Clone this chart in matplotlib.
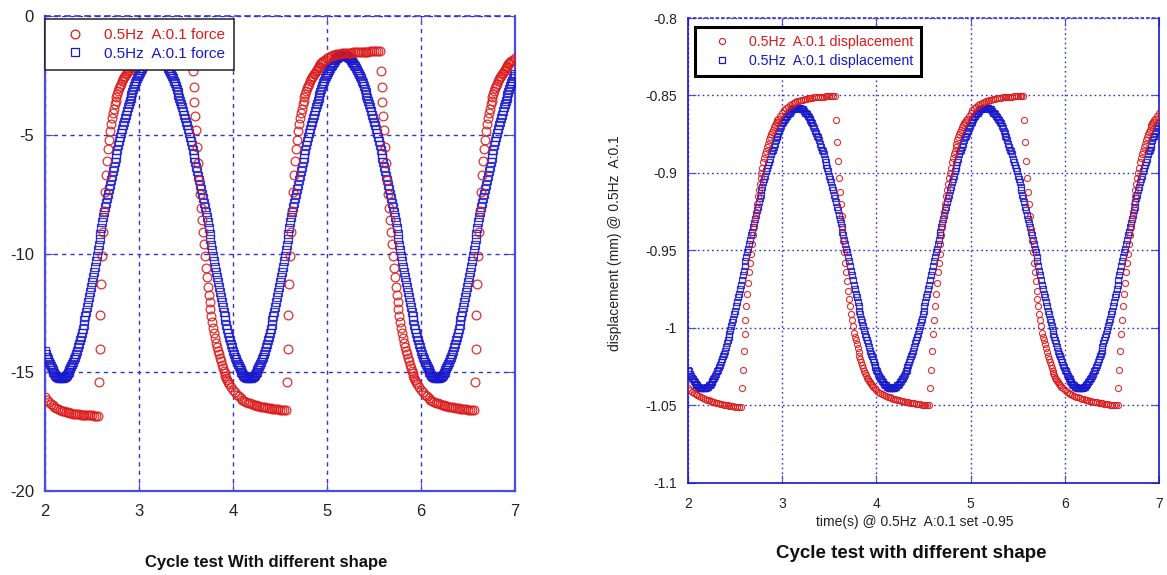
import numpy as np
import matplotlib
matplotlib.use("Agg")
import matplotlib.pyplot as plt
from matplotlib.lines import Line2D

plt.rcParams['font.family'] = ['Liberation Sans', 'DejaVu Sans']
plt.rcParams['axes.unicode_minus'] = False

############################################################################################################
# Data
############################################################################################################

# sampling clock: even samples 2.00, 2.02 ... 7.00 and odd samples 2.01, 2.03 ... 6.99
time_s = np.round(np.arange(2.0, 7.0001, 0.02), 2)
time_mid_s = np.round(np.arange(2.01, 6.9901, 0.02), 2)

# force, blue squares (even samples)
force_blue = [
    -14.09, -14.34, -14.56, -14.75, -14.92, -15.05, -15.15, -15.21, -15.25, -15.25, -15.21, -15.15, -15.05, -14.92,
    -14.75, -14.56, -14.34, -14.09, -13.81, -13.50, -13.17, -12.82, -12.45, -12.05, -11.64, -11.22, -10.78, -10.33,
    -9.86, -9.40, -8.93, -8.45,
    -8.06, -7.67, -7.29, -6.91, -6.53, -6.16, -5.80, -5.45, -5.11, -4.77, -4.45, -4.15, -3.85, -3.57, -3.31, -3.06,
    -2.84, -2.63, -2.44, -2.26, -2.11, -1.98, -1.87, -1.78, -1.72, -1.67, -1.65, -1.65, -1.67, -1.72, -1.78, -1.87,
    -1.98, -2.11, -2.26, -2.44, -2.63, -2.84, -3.06, -3.31, -3.57, -3.85, -4.15, -4.45, -4.77, -5.11, -5.45, -5.80,
    -6.16, -6.53, -6.91, -7.29, -7.67, -8.06, -8.45,
    -8.92, -9.40, -9.86, -10.33, -10.78, -11.22, -11.64, -12.05, -12.45, -12.82, -13.17, -13.50, -13.81, -14.09,
    -14.34, -14.56, -14.75, -14.92, -15.05, -15.15, -15.21, -15.25, -15.25, -15.21, -15.15, -15.05, -14.92, -14.75,
    -14.56, -14.34, -14.09, -13.81, -13.50, -13.17, -12.82, -12.45, -12.05, -11.64, -11.22, -10.78, -10.33, -9.86,
    -9.40, -8.93, -8.45,
    -8.06, -7.67, -7.29, -6.91, -6.53, -6.16, -5.80, -5.45, -5.11, -4.77, -4.45, -4.15, -3.85, -3.57, -3.31, -3.06,
    -2.84, -2.63, -2.44, -2.26, -2.11, -1.98, -1.87, -1.78, -1.72, -1.67, -1.64, -1.64, -1.67, -1.72, -1.78, -1.87,
    -1.98, -2.11, -2.26, -2.44, -2.63, -2.84, -3.06, -3.31, -3.57, -3.85, -4.15, -4.45, -4.77, -5.11, -5.45, -5.80,
    -6.16, -6.53, -6.91, -7.29, -7.67, -8.06, -8.45,
    -8.92, -9.40, -9.86, -10.33, -10.78, -11.22, -11.64, -12.05, -12.45, -12.82, -13.17, -13.50, -13.81, -14.09,
    -14.34, -14.56, -14.75, -14.92, -15.05, -15.15, -15.21, -15.24, -15.24, -15.21, -15.15, -15.05, -14.92, -14.75,
    -14.56, -14.34, -14.09, -13.81, -13.50, -13.17, -12.82, -12.45, -12.05, -11.64, -11.22, -10.78, -10.33, -9.86,
    -9.40, -8.93, -8.45,
    -8.06, -7.67, -7.29, -6.91, -6.53, -6.16, -5.80, -5.45, -5.11, -4.77, -4.45, -4.15, -3.85, -3.57, -3.31, -3.06,
    -2.84, -2.63, -2.44,
]

# force, blue squares (odd samples)
force_blue_mid = [
    -14.22, -14.45, -14.66, -14.84, -14.99, -15.10, -15.18, -15.23, -15.25, -15.23, -15.18, -15.10, -14.99, -14.84,
    -14.66, -14.45, -14.22, -13.95, -13.66, -13.34, -13.00, -12.64, -12.25, -11.85, -11.43, -11.00, -10.55, -10.10,
    -9.63, -9.16, -8.69,
    -8.26, -7.87, -7.48, -7.10, -6.72, -6.35, -5.98, -5.63, -5.28, -4.94, -4.61, -4.30, -4.00, -3.71, -3.44, -3.19,
    -2.95, -2.73, -2.53, -2.35, -2.19, -2.05, -1.93, -1.83, -1.75, -1.69, -1.66, -1.65, -1.66, -1.69, -1.75, -1.83,
    -1.93, -2.05, -2.19, -2.35, -2.53, -2.73, -2.95, -3.19, -3.44, -3.71, -4.00, -4.30, -4.61, -4.94, -5.28, -5.63,
    -5.98, -6.35, -6.72, -7.10, -7.48, -7.87, -8.26,
    -8.69, -9.16, -9.63, -10.10, -10.55, -11.00, -11.43, -11.85, -12.25, -12.64, -13.00, -13.34, -13.66, -13.95,
    -14.22, -14.45, -14.66, -14.84, -14.99, -15.10, -15.18, -15.23, -15.25, -15.23, -15.18, -15.10, -14.99, -14.84,
    -14.66, -14.45, -14.22, -13.95, -13.66, -13.34, -13.00, -12.64, -12.25, -11.85, -11.43, -11.00, -10.55, -10.10,
    -9.63, -9.16, -8.69,
    -8.26, -7.87, -7.48, -7.10, -6.72, -6.35, -5.98, -5.63, -5.28, -4.94, -4.61, -4.30, -4.00, -3.71, -3.44, -3.19,
    -2.95, -2.73, -2.53, -2.35, -2.19, -2.05, -1.93, -1.83, -1.75, -1.69, -1.66, -1.64, -1.66, -1.69, -1.75, -1.83,
    -1.93, -2.05, -2.19, -2.35, -2.53, -2.73, -2.95, -3.19, -3.44, -3.71, -4.00, -4.30, -4.61, -4.94, -5.28, -5.63,
    -5.98, -6.35, -6.72, -7.10, -7.48, -7.87, -8.26,
    -8.69, -9.16, -9.63, -10.10, -10.55, -11.00, -11.43, -11.85, -12.25, -12.64, -13.00, -13.34, -13.66, -13.95,
    -14.22, -14.45, -14.66, -14.84, -14.99, -15.10, -15.18, -15.23, -15.24, -15.23, -15.18, -15.10, -14.99, -14.84,
    -14.66, -14.45, -14.22, -13.95, -13.66, -13.34, -13.00, -12.64, -12.25, -11.85, -11.43, -11.00, -10.55, -10.10,
    -9.63, -9.16, -8.69,
    -8.26, -7.87, -7.48, -7.10, -6.72, -6.35, -5.98, -5.63, -5.28, -4.94, -4.61, -4.30, -4.00, -3.71, -3.44, -3.19,
    -2.95, -2.73, -2.53,
]

# force, red circles (even samples)
force_red = [
    -16.03, -16.15, -16.25, -16.33, -16.40, -16.46, -16.51, -16.55, -16.59, -16.62, -16.65, -16.67, -16.69, -16.71,
    -16.72, -16.74, -16.75, -16.76, -16.77, -16.78, -16.79, -16.80, -16.80, -16.81, -16.82, -16.82, -16.83, -16.83,
    -16.84,
    -14.0, -11.3, -9.1, -7.4, -6.1, -5.2, -4.55, -4.1, -3.72, -3.42, -3.16, -2.94, -2.75, -2.58, -2.44, -2.32, -2.20,
    -2.09, -1.99, -1.91, -1.84, -1.78, -1.73, -1.69, -1.66, -1.63, -1.61, -1.59, -1.58, -1.57, -1.56, -1.55, -1.55,
    -1.54, -1.54, -1.53, -1.53, -1.52, -1.52, -1.51, -1.51, -1.50, -1.50, -1.50, -1.49, -1.49, -1.49, -1.48, -1.48,
    -1.48,
    -3.0, -4.2, -5.5, -6.9, -8.1, -9.1, -10.1, -11.0, -11.75, -12.35, -12.9, -13.35, -13.75, -14.1, -14.4, -14.68,
    -14.93, -15.15, -15.33, -15.5, -15.63, -15.75, -15.85, -15.94, -16.02, -16.09, -16.15, -16.2, -16.24, -16.28,
    -16.31, -16.34, -16.37, -16.39, -16.41, -16.43, -16.45, -16.47, -16.48, -16.5, -16.51, -16.52, -16.53, -16.54,
    -16.55, -16.56, -16.57, -16.58, -16.59, -16.6,
    -14.0, -11.3, -9.1, -7.4, -6.1, -5.2, -4.55, -4.1, -3.72, -3.42, -3.16, -2.94, -2.75, -2.58, -2.44, -2.32, -2.20,
    -2.09, -1.99, -1.91, -1.84, -1.78, -1.73, -1.69, -1.66, -1.63, -1.61, -1.59, -1.58, -1.57, -1.56, -1.55, -1.55,
    -1.54, -1.54, -1.53, -1.53, -1.52, -1.52, -1.51, -1.51, -1.50, -1.50, -1.50, -1.49, -1.49, -1.49, -1.48, -1.48,
    -1.48,
    -3.0, -4.2, -5.5, -6.9, -8.1, -9.1, -10.1, -11.0, -11.75, -12.35, -12.9, -13.35, -13.75, -14.1, -14.4, -14.68,
    -14.93, -15.15, -15.33, -15.5, -15.63, -15.75, -15.85, -15.94, -16.02, -16.09, -16.15, -16.2, -16.24, -16.28,
    -16.31, -16.34, -16.37, -16.39, -16.41, -16.43, -16.45, -16.47, -16.48, -16.5, -16.51, -16.52, -16.53, -16.54,
    -16.55, -16.56, -16.57, -16.58, -16.59, -16.6,
    -14.0, -11.3, -9.1, -7.4, -6.1, -5.2, -4.55, -4.1, -3.72, -3.42, -3.16, -2.94, -2.75, -2.58, -2.44, -2.32, -2.20,
    -2.09, -1.99, -1.91, -1.84, -1.78,
]

# the red trace moves fast after each jump, so odd samples are kept there too
jump_time_s = [
    2.57, 2.59, 2.61, 2.63, 2.65, 2.67, 2.69, 2.71, 2.73, 2.75, 2.77, 2.79, 2.81, 2.83, 2.85, 2.87, 2.89, 2.91, 2.93, 2.95,
    3.57, 3.59, 3.61, 3.63, 3.65, 3.67, 3.69, 3.71, 3.73, 3.75, 3.77, 3.79, 3.81, 3.83, 3.85, 3.87, 3.89, 3.91, 3.93, 3.95,
    4.57, 4.59, 4.61, 4.63, 4.65, 4.67, 4.69, 4.71, 4.73, 4.75, 4.77, 4.79, 4.81, 4.83, 4.85, 4.87, 4.89, 4.91, 4.93, 4.95,
    5.57, 5.59, 5.61, 5.63, 5.65, 5.67, 5.69, 5.71, 5.73, 5.75, 5.77, 5.79, 5.81, 5.83, 5.85, 5.87, 5.89, 5.91, 5.93, 5.95,
    6.57, 6.59, 6.61, 6.63, 6.65, 6.67, 6.69, 6.71, 6.73, 6.75, 6.77, 6.79, 6.81, 6.83, 6.85, 6.87, 6.89, 6.91, 6.93, 6.95,
]
jump_force_red = [
    -15.4, -12.6, -10.1, -8.2, -6.7, -5.6, -4.85, -4.3, -3.9, -3.56,
    -3.29, -3.05, -2.85, -2.67, -2.51, -2.38, -2.26, -2.15, -2.04, -1.95,
    -2.3, -3.6, -4.8, -6.2, -7.5, -8.6, -9.6, -10.6, -11.4, -12.05,
    -12.63, -13.13, -13.55, -13.93, -14.25, -14.54, -14.81, -15.04, -15.24, -15.42,
    -15.4, -12.6, -10.1, -8.2, -6.7, -5.6, -4.85, -4.3, -3.9, -3.56,
    -3.29, -3.05, -2.85, -2.67, -2.51, -2.38, -2.26, -2.15, -2.04, -1.95,
    -2.3, -3.6, -4.8, -6.2, -7.5, -8.6, -9.6, -10.6, -11.4, -12.05,
    -12.63, -13.13, -13.55, -13.93, -14.25, -14.54, -14.81, -15.04, -15.24, -15.42,
    -15.4, -12.6, -10.1, -8.2, -6.7, -5.6, -4.85, -4.3, -3.9, -3.56,
    -3.29, -3.05, -2.85, -2.67, -2.51, -2.38, -2.26, -2.15, -2.04, -1.95,
]

# displacement (mm), blue squares (even samples)
disp_blue = [
    -1.027, -1.030, -1.032, -1.034, -1.036, -1.037, -1.038, -1.039, -1.039, -1.039, -1.038, -1.037, -1.036, -1.034,
    -1.032, -1.030, -1.027, -1.024, -1.020, -1.017, -1.012, -1.008, -1.004, -0.999, -0.994, -0.989, -0.983, -0.978,
    -0.972, -0.966, -0.960, -0.954, -0.949,
    -0.943, -0.938, -0.932, -0.927, -0.922, -0.916, -0.911, -0.906, -0.902, -0.897, -0.893, -0.888, -0.885, -0.881,
    -0.877, -0.874, -0.871, -0.868, -0.866, -0.864, -0.862, -0.861, -0.859, -0.859, -0.858, -0.858, -0.858, -0.859,
    -0.859, -0.861, -0.862, -0.864, -0.866, -0.868, -0.871, -0.874, -0.877, -0.881, -0.885, -0.888, -0.893, -0.897,
    -0.902, -0.906, -0.911, -0.916, -0.922, -0.927, -0.932, -0.938, -0.943, -0.949,
    -0.954, -0.960, -0.966, -0.972, -0.978, -0.983, -0.989, -0.994, -0.999, -1.004, -1.008, -1.012, -1.017, -1.020,
    -1.024, -1.027, -1.030, -1.032, -1.034, -1.036, -1.037, -1.038, -1.039, -1.039, -1.039, -1.038, -1.037, -1.036,
    -1.034, -1.032, -1.030, -1.027, -1.024, -1.020, -1.017, -1.012, -1.008, -1.004, -0.999, -0.994, -0.989, -0.983,
    -0.978, -0.972, -0.966, -0.960, -0.954, -0.949,
    -0.943, -0.938, -0.932, -0.927, -0.922, -0.916, -0.911, -0.906, -0.902, -0.897, -0.893, -0.888, -0.885, -0.881,
    -0.877, -0.874, -0.871, -0.868, -0.866, -0.864, -0.862, -0.861, -0.859, -0.859, -0.858, -0.858, -0.858, -0.859,
    -0.859, -0.861, -0.862, -0.864, -0.866, -0.868, -0.871, -0.874, -0.877, -0.881, -0.885, -0.888, -0.893, -0.897,
    -0.902, -0.906, -0.911, -0.916, -0.922, -0.927, -0.932, -0.938, -0.943, -0.949,
    -0.954, -0.960, -0.966, -0.972, -0.978, -0.983, -0.989, -0.994, -0.999, -1.004, -1.008, -1.012, -1.017, -1.020,
    -1.024, -1.027, -1.030, -1.032, -1.034, -1.036, -1.037, -1.038, -1.039, -1.039, -1.039, -1.038, -1.037, -1.036,
    -1.034, -1.032, -1.030, -1.027, -1.024, -1.020, -1.017, -1.012, -1.008, -1.004, -0.999, -0.994, -0.989, -0.983,
    -0.978, -0.972, -0.966, -0.960, -0.954, -0.949,
    -0.943, -0.938, -0.932, -0.927, -0.922, -0.916, -0.911, -0.906, -0.902, -0.897, -0.893, -0.888, -0.885, -0.881,
    -0.877, -0.874, -0.871, -0.868,
]

# displacement (mm), blue squares (odd samples)
disp_blue_mid = [
    -1.028, -1.031, -1.033, -1.035, -1.037, -1.038, -1.039, -1.039, -1.039, -1.039, -1.038, -1.037, -1.035, -1.033,
    -1.031, -1.028, -1.025, -1.022, -1.018, -1.015, -1.010, -1.006, -1.001, -0.996, -0.991, -0.986, -0.980, -0.975,
    -0.969, -0.963, -0.957, -0.951,
    -0.946, -0.940, -0.935, -0.930, -0.924, -0.919, -0.914, -0.909, -0.904, -0.899, -0.895, -0.891, -0.886, -0.883,
    -0.879, -0.876, -0.873, -0.870, -0.867, -0.865, -0.863, -0.861, -0.860, -0.859, -0.858, -0.858, -0.858, -0.858,
    -0.859, -0.860, -0.861, -0.863, -0.865, -0.867, -0.870, -0.873, -0.876, -0.879, -0.883, -0.886, -0.891, -0.895,
    -0.899, -0.904, -0.909, -0.914, -0.919, -0.924, -0.930, -0.935, -0.940, -0.946,
    -0.951, -0.957, -0.963, -0.969, -0.975, -0.980, -0.986, -0.991, -0.996, -1.001, -1.006, -1.010, -1.015, -1.018,
    -1.022, -1.025, -1.028, -1.031, -1.033, -1.035, -1.037, -1.038, -1.039, -1.039, -1.039, -1.039, -1.038, -1.037,
    -1.035, -1.033, -1.031, -1.028, -1.025, -1.022, -1.018, -1.015, -1.010, -1.006, -1.001, -0.996, -0.991, -0.986,
    -0.980, -0.975, -0.969, -0.963, -0.957, -0.951,
    -0.946, -0.940, -0.935, -0.930, -0.924, -0.919, -0.914, -0.909, -0.904, -0.899, -0.895, -0.891, -0.886, -0.883,
    -0.879, -0.876, -0.873, -0.870, -0.867, -0.865, -0.863, -0.861, -0.860, -0.859, -0.858, -0.858, -0.858, -0.858,
    -0.859, -0.860, -0.861, -0.863, -0.865, -0.867, -0.870, -0.873, -0.876, -0.879, -0.883, -0.886, -0.891, -0.895,
    -0.899, -0.904, -0.909, -0.914, -0.919, -0.924, -0.930, -0.935, -0.940, -0.946,
    -0.951, -0.957, -0.963, -0.969, -0.975, -0.980, -0.986, -0.991, -0.996, -1.001, -1.006, -1.010, -1.015, -1.018,
    -1.022, -1.025, -1.028, -1.031, -1.033, -1.035, -1.037, -1.038, -1.039, -1.039, -1.039, -1.039, -1.038, -1.037,
    -1.035, -1.033, -1.031, -1.028, -1.025, -1.022, -1.018, -1.015, -1.010, -1.006, -1.001, -0.996, -0.991, -0.986,
    -0.980, -0.975, -0.969, -0.963, -0.957, -0.951,
    -0.946, -0.940, -0.935, -0.930, -0.924, -0.919, -0.914, -0.909, -0.904, -0.899, -0.895, -0.891, -0.886, -0.883,
    -0.879, -0.876, -0.873, -0.870,
]

# displacement (mm), red circles (even samples)
disp_red = [
    -1.0390, -1.0400, -1.0410, -1.0419, -1.0427, -1.0434, -1.0441, -1.0447, -1.0453, -1.0458, -1.0463, -1.0467,
    -1.0471, -1.0475, -1.0479, -1.0482, -1.0485, -1.0488, -1.0491, -1.0494, -1.0497, -1.0499, -1.0501, -1.0503,
    -1.0505, -1.0507, -1.0509, -1.0511, -1.0512,
    -1.027, -1.004, -0.986, -0.971, -0.958, -0.946, -0.935, -0.925, -0.915, -0.907, -0.900, -0.893, -0.888, -0.883,
    -0.879, -0.875, -0.872, -0.869, -0.867, -0.865, -0.863, -0.861, -0.8595, -0.8583, -0.8572, -0.8563, -0.8555,
    -0.8548, -0.8542, -0.8537, -0.8533, -0.8529, -0.8526, -0.8523, -0.8520, -0.8518, -0.8516, -0.8514, -0.8512,
    -0.8511, -0.8510, -0.8509, -0.8508, -0.8507, -0.8506, -0.8505, -0.8504, -0.8503, -0.8502, -0.8501,
    -0.880, -0.903, -0.920, -0.936, -0.951, -0.964, -0.976, -0.986, -0.995, -1.003, -1.008, -1.013, -1.018, -1.022,
    -1.026, -1.029, -1.032, -1.034, -1.036, -1.038, -1.039, -1.040, -1.041, -1.0418, -1.0425, -1.0432, -1.0438,
    -1.0443, -1.0448, -1.0452, -1.0456, -1.0460, -1.0464, -1.0467, -1.0470, -1.0473, -1.0476, -1.0478, -1.0480,
    -1.0482, -1.0484, -1.0486, -1.0488, -1.0490, -1.0492, -1.0494, -1.0496, -1.0497, -1.0498, -1.0500,
    -1.027, -1.004, -0.986, -0.971, -0.958, -0.946, -0.935, -0.925, -0.915, -0.907, -0.900, -0.893, -0.888, -0.883,
    -0.879, -0.875, -0.872, -0.869, -0.867, -0.865, -0.863, -0.861, -0.8595, -0.8583, -0.8572, -0.8563, -0.8555,
    -0.8548, -0.8542, -0.8537, -0.8533, -0.8529, -0.8526, -0.8523, -0.8520, -0.8518, -0.8516, -0.8514, -0.8512,
    -0.8511, -0.8510, -0.8509, -0.8508, -0.8507, -0.8506, -0.8505, -0.8504, -0.8503, -0.8502, -0.8501,
    -0.880, -0.903, -0.920, -0.936, -0.951, -0.964, -0.976, -0.986, -0.995, -1.003, -1.008, -1.013, -1.018, -1.022,
    -1.026, -1.029, -1.032, -1.034, -1.036, -1.038, -1.039, -1.040, -1.041, -1.0418, -1.0425, -1.0432, -1.0438,
    -1.0443, -1.0448, -1.0452, -1.0456, -1.0460, -1.0464, -1.0467, -1.0470, -1.0473, -1.0476, -1.0478, -1.0480,
    -1.0482, -1.0484, -1.0486, -1.0488, -1.0490, -1.0492, -1.0494, -1.0496, -1.0497, -1.0498, -1.0500,
    -1.027, -1.004, -0.986, -0.971, -0.958, -0.946, -0.935, -0.925, -0.915, -0.907, -0.900, -0.893, -0.888, -0.883,
    -0.879, -0.875, -0.872, -0.869, -0.867, -0.865, -0.863, -0.861,
]
jump_disp_red = [
    -1.039, -1.015, -0.995, -0.978, -0.964, -0.952, -0.940, -0.930, -0.920, -0.911,
    -0.9035, -0.8965, -0.8905, -0.8855, -0.881, -0.877, -0.8735, -0.8705, -0.868, -0.866,
    -0.866, -0.892, -0.912, -0.928, -0.944, -0.958, -0.970, -0.981, -0.991, -0.999,
    -1.0055, -1.0105, -1.0155, -1.020, -1.024, -1.0275, -1.0305, -1.033, -1.035, -1.037,
    -1.039, -1.015, -0.995, -0.978, -0.964, -0.952, -0.940, -0.930, -0.920, -0.911,
    -0.9035, -0.8965, -0.8905, -0.8855, -0.881, -0.877, -0.8735, -0.8705, -0.868, -0.866,
    -0.866, -0.892, -0.912, -0.928, -0.944, -0.958, -0.970, -0.981, -0.991, -0.999,
    -1.0055, -1.0105, -1.0155, -1.020, -1.024, -1.0275, -1.0305, -1.033, -1.035, -1.037,
    -1.039, -1.015, -0.995, -0.978, -0.964, -0.952, -0.940, -0.930, -0.920, -0.911,
    -0.9035, -0.8965, -0.8905, -0.8855, -0.881, -0.877, -0.8735, -0.8705, -0.868, -0.866,
]

x_ticks = [2, 3, 4, 5, 6, 7]
force_ticks = [0, -5, -10, -15, -20]
disp_ticks = [-0.8, -0.85, -0.9, -0.95, -1.0, -1.05, -1.1]
disp_tick_labels = ['-0.8', '-0.85', '-0.9', '-0.95', '-1', '-1.05', '-1.1']

RED = '#dc1a1a'
BLUE = '#1818cc'
GRID = '#3232dc'
SPINE = '#4b4be0'


def series(clock, even, odd=None, extra_t=None, extra_y=None):
    n = min(len(even), len(clock))
    t = [np.asarray(clock[:n])]
    y = [np.asarray(even[:n])]
    if odd is not None:
        m = min(len(odd), len(time_mid_s))
        t.append(time_mid_s[:m])
        y.append(np.asarray(odd[:m]))
    if extra_t is not None:
        t.append(np.asarray(extra_t))
        y.append(np.asarray(extra_y))
    return np.concatenate(t), np.concatenate(y)


############################################################################################################
# Figure
############################################################################################################

fig = plt.figure(figsize=(11.67, 5.75), dpi=100)
ax1 = fig.add_axes([45 / 1167, 1 - 491 / 575, 470 / 1167, 475 / 575])
ax2 = fig.add_axes([688 / 1167, 1 - 483 / 575, 471 / 1167, 465 / 575])

# ---- left panel: force
tb, yb = series(time_s, force_blue, force_blue_mid)
tr, yr = series(time_s, force_red, extra_t=jump_time_s, extra_y=jump_force_red)
ax1.plot(tb, yb, ls='none', marker='s', ms=5.8, mfc='none', mec=BLUE, mew=0.9, alpha=0.85, zorder=3)
ax1.plot(tr, yr, ls='none', marker='o', ms=6.3, mfc='none', mec=RED, mew=0.9, alpha=0.9, zorder=4)

ax1.set_xlim(2, 7)
ax1.set_ylim(-20, 0)
ax1.set_xticks(x_ticks)
ax1.set_yticks(force_ticks)
ax1.grid(True, color=GRID, ls=(0, (3, 3)), lw=1.0)
ax1.set_axisbelow(True)
ax1.tick_params(axis='both', direction='in', length=6, color=SPINE, labelsize=12, labelcolor='#222222',
                top=True, right=True)
ax1.tick_params(axis='x', pad=9)
ax1.tick_params(axis='y', pad=8)
for side in ['left', 'bottom', 'right']:
    ax1.spines[side].set_color(SPINE)
    ax1.spines[side].set_linewidth(1.6)
ax1.spines['top'].set_color(GRID)
ax1.spines['top'].set_linestyle((0, (3, 3)))
ax1.spines['top'].set_linewidth(1.2)

h_red = Line2D([], [], ls='none', marker='o', ms=6.3, mfc='none', mec=RED, mew=0.9)
h_blue = Line2D([], [], ls='none', marker='s', ms=5.8, mfc='none', mec=BLUE, mew=0.9)
leg1 = ax1.legend([h_red, h_blue], ['0.5Hz  A:0.1 force', '0.5Hz  A:0.1 force'], loc='upper left',
                  bbox_to_anchor=(0.0, 1 - 3 / 475), borderaxespad=0, fontsize=11.0, handlelength=2.7,
                  handletextpad=0.55, borderpad=0.6, labelspacing=0.3, fancybox=False, framealpha=1,
                  edgecolor='#222222')
leg1.get_frame().set_linewidth(1.1)
leg1.get_texts()[0].set_color(RED)
leg1.get_texts()[1].set_color(BLUE)

fig.text(266 / 1167, 1 - 563 / 575, 'Cycle test With different shape', ha='center', va='center',
         fontsize=12, fontweight='bold', color='#111111')

# ---- right panel: displacement
tb, yb = series(time_s, disp_blue, disp_blue_mid)
tr, yr = series(time_s, disp_red, extra_t=jump_time_s, extra_y=jump_disp_red)
ax2.plot(tb, yb, ls='none', marker='s', ms=5.0, mfc='none', mec=BLUE, mew=0.9, alpha=0.85, zorder=3)
ax2.plot(tr, yr, ls='none', marker='o', ms=4.4, mfc='none', mec=RED, mew=0.8, alpha=0.9, zorder=4)

ax2.set_xlim(2, 7)
ax2.set_ylim(-1.1, -0.8)
ax2.set_xticks(x_ticks)
ax2.set_yticks(disp_ticks)
ax2.set_yticklabels(disp_tick_labels)
ax2.grid(True, color=GRID, ls=(0, (1.2, 2.2)), lw=1.0)
ax2.set_axisbelow(True)
ax2.tick_params(axis='both', direction='in', length=6, color=SPINE, labelsize=10, labelcolor='#222222',
                top=True, right=True)
ax2.tick_params(axis='x', pad=10)
ax2.tick_params(axis='y', pad=8)
for side in ['left', 'bottom', 'right']:
    ax2.spines[side].set_color(BLUE)
    ax2.spines[side].set_linewidth(1.2)
ax2.spines['top'].set_color(GRID)
ax2.spines['top'].set_linestyle((0, (1.2, 2.2)))
ax2.spines['top'].set_linewidth(1.2)

h_red2 = Line2D([], [], ls='none', marker='o', ms=4.4, mfc='none', mec=RED, mew=0.8)
h_blue2 = Line2D([], [], ls='none', marker='s', ms=5.0, mfc='none', mec=BLUE, mew=0.9)
leg2 = ax2.legend([h_red2, h_blue2], ['0.5Hz  A:0.1 displacement', '0.5Hz  A:0.1 displacement'],
                  loc='upper left', bbox_to_anchor=(7 / 471, 1 - 9 / 465), borderaxespad=0, fontsize=10.2,
                  handlelength=2.7, handletextpad=0.56, borderpad=0.55, labelspacing=0.38, fancybox=False,
                  framealpha=1, edgecolor='black')
leg2.get_frame().set_linewidth(2.2)
leg2.get_texts()[0].set_color(RED)
leg2.get_texts()[1].set_color(BLUE)

fig.text(615 / 1167, 1 - 243 / 575, 'displacement (mm) @ 0.5Hz  A:0.1', rotation=90, ha='center', va='center',
         fontsize=10, color='#222222')
fig.text(915 / 1167, 1 - 522 / 575, 'time(s) @ 0.5Hz  A:0.1 set -0.95', ha='center', va='center',
         fontsize=10, color='#222222')
fig.text(911 / 1167, 1 - 553 / 575, 'Cycle test with different shape', ha='center', va='center',
         fontsize=13.5, fontweight='bold', color='#111111')

fig.savefig('out.png', dpi=100)
